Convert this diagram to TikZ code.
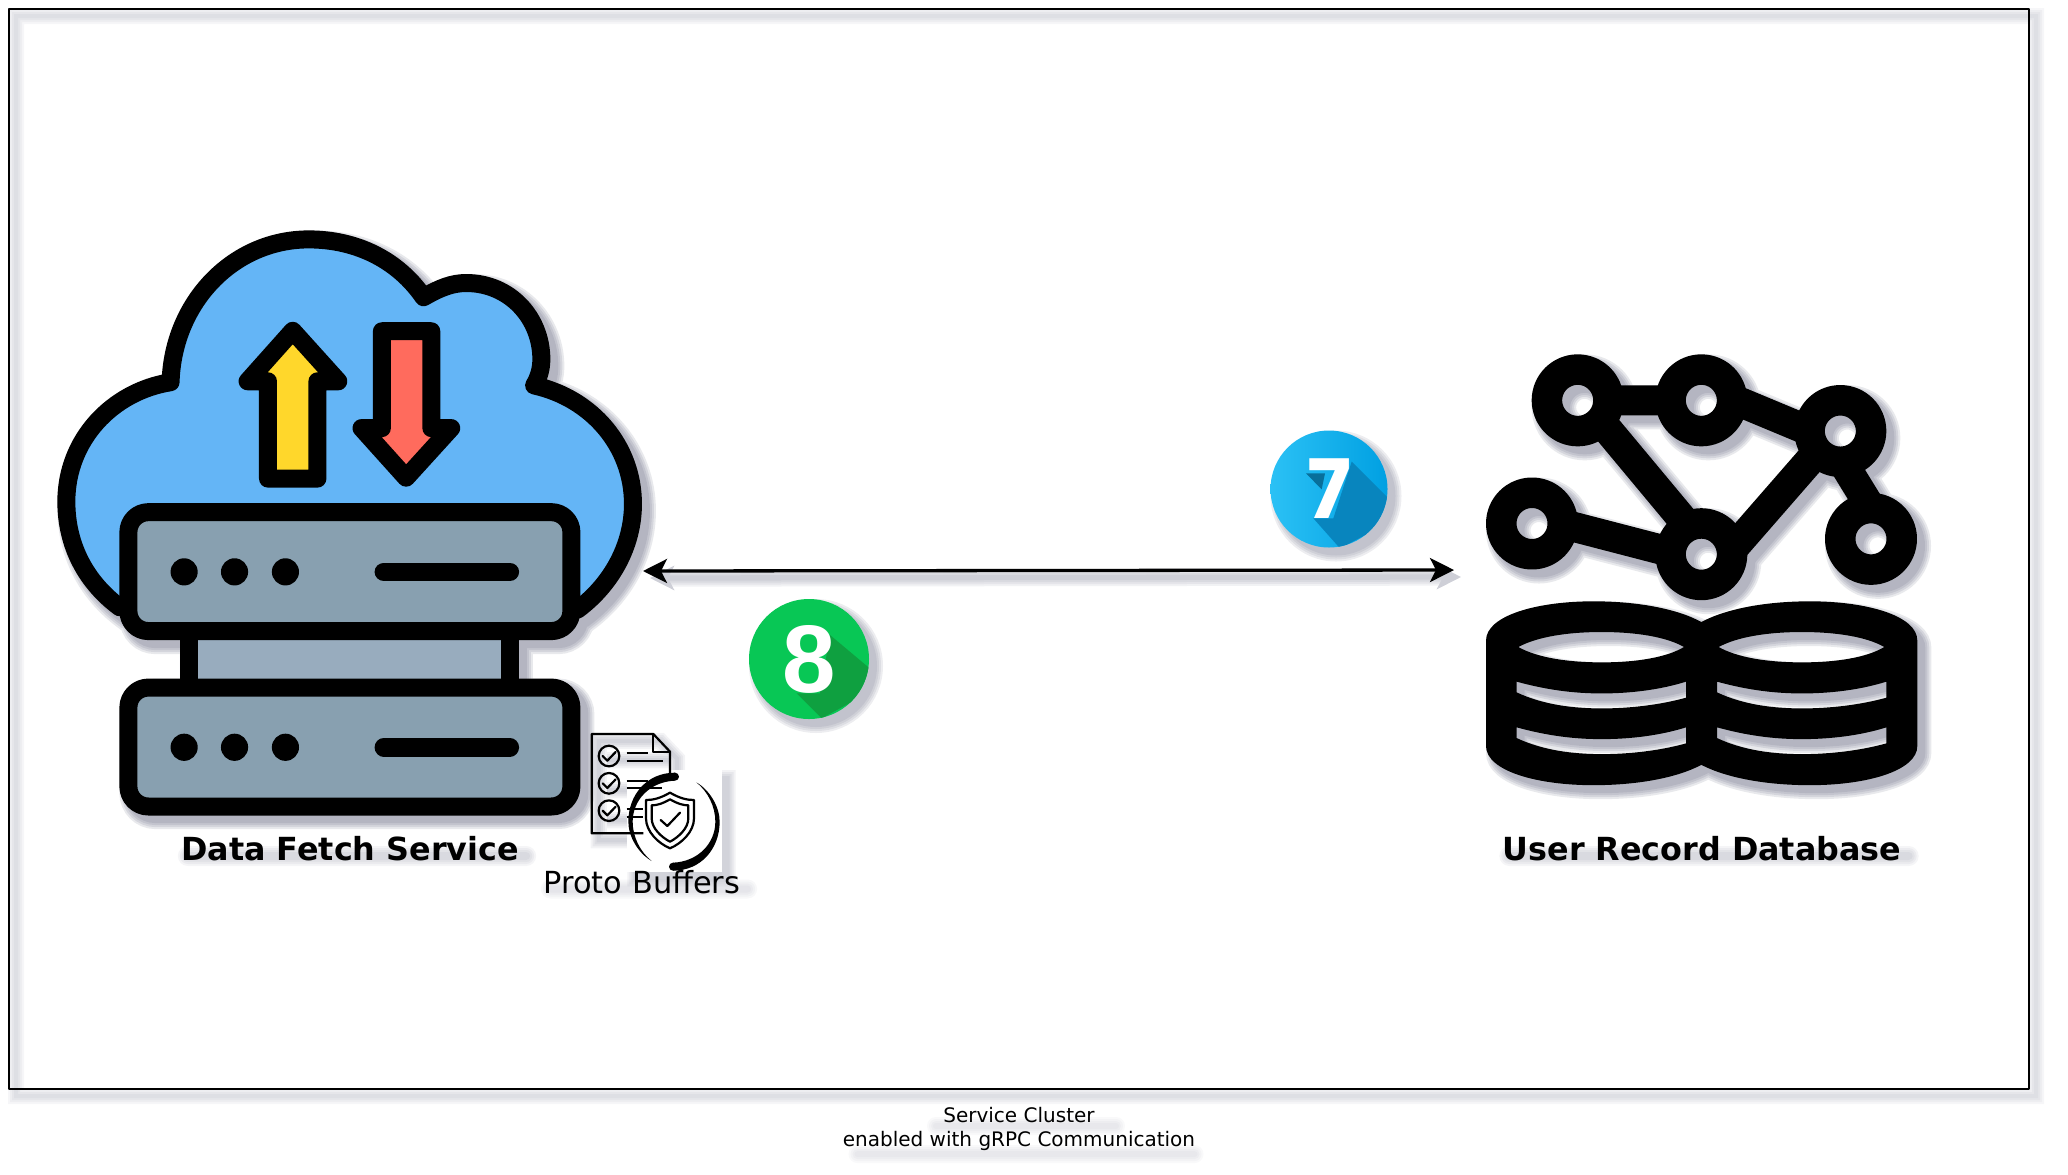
\documentclass[tikz,border=0pt]{standalone}
\usepackage{fontspec}
\setmainfont{DejaVu Sans}
\newfontfamily\badgefont{Liberation Sans}
\newfontfamily\sevenfont{Poppins}
\usetikzlibrary{arrows.meta}
\definecolor{cloudblue}{HTML}{64B5F6}
\definecolor{serverslate}{HTML}{88A0B0}
\definecolor{linkslate}{HTML}{98ACBE}
\definecolor{upyellow}{HTML}{FFD72B}
\definecolor{downred}{HTML}{FF6B5D}
\definecolor{shadowtint}{HTML}{50536F}
\definecolor{sevenleft}{HTML}{2BC1F5}
\definecolor{sevenright}{HTML}{00A0E2}
\definecolor{sevenstreak}{HTML}{0885BE}
\definecolor{sevenfold}{HTML}{086F9B}
\definecolor{eightgreen}{HTML}{08C755}
\definecolor{eightstreak}{HTML}{0FA040}
\pgfdeclarelayer{shadowlayer}
\pgfsetlayers{shadowlayer,main}
\newcommand{\softshadow}[2]{%
  \begin{pgfonlayer}{shadowlayer}
  \begin{scope}[transform canvas={shift={(3.5pt,-3.5pt)}}]
  \foreach \spread in {14,10,6,2}{
    \begin{scope}[transparency group,opacity=#1]
    #2
    \end{scope}
  }
  \end{scope}
  \end{pgfonlayer}}
\newcommand{\cloudoutline}{(185,865) .. controls (115,810) and (75,730) .. (75,635) .. controls (75,500) and (170,395) .. (290,375) .. controls (295,200) and (420,64) .. (575,64) .. controls (675,64) and (760,110) .. (812,190) .. controls (845,170) and (870,159) .. (900,159) .. controls (990,159) and (1055,235) .. (1055,325) .. controls (1055,345) and (1050,365) .. (1040,382) .. controls (1160,410) and (1244,515) .. (1244,640) .. controls (1244,730) and (1200,815) .. (1130,870) -- cycle}
\newcommand{\dbcutouts}[1]{(175+#1,888) .. controls (230+#1,860) and (320+#1,846) .. (425+#1,846) .. controls (530+#1,846) and (620+#1,860) .. (672+#1,888) .. controls (620+#1,917) and (530+#1,931) .. (425+#1,931) .. controls (320+#1,931) and (230+#1,917) .. (175+#1,888) -- cycle
 (170+#1,985) .. controls (260+#1,1008) and (340+#1,1018) .. (425+#1,1018) .. controls (510+#1,1018) and (600+#1,1008) .. (678+#1,985) -- (678+#1,1030) .. controls (600+#1,1050) and (510+#1,1060) .. (425+#1,1060) .. controls (340+#1,1060) and (250+#1,1050) .. (170+#1,1015) -- cycle
 (170+#1,1113) .. controls (260+#1,1136) and (340+#1,1146) .. (425+#1,1146) .. controls (510+#1,1146) and (600+#1,1136) .. (678+#1,1113) -- (678+#1,1158) .. controls (600+#1,1178) and (510+#1,1188) .. (425+#1,1188) .. controls (340+#1,1188) and (250+#1,1178) .. (170+#1,1143) -- cycle}
\newcommand{\dbbody}{(78,870) .. controls (78,800) and (230,760) .. (400,760) .. controls (530,760) and (650,780) .. (724,818) .. controls (800,780) and (920,760) .. (1050,760) .. controls (1220,760) and (1372,800) .. (1372,870) -- (1372,1165) .. controls (1372,1235) and (1220,1275) .. (1050,1275) .. controls (920,1275) and (800,1255) .. (724,1218) .. controls (650,1255) and (530,1275) .. (400,1275) .. controls (230,1275) and (78,1235) .. (78,1165) -- cycle \dbcutouts{0} \dbcutouts{601}}
\newcommand{\docoutline}{(250,340) -- (95,340) -- (95,42) -- (280,42) -- (330,95) -- (330,180)}
\newcommand{\netlinks}{(neta) -- (netb) (netb.3) -- (netc.180) (neta.-42) -- (nete.115) (netd.-1) -- (nete.176) (nete.8) -- (netc.222) (netc.-86) -- (netf.90)}
\begin{document}
\begin{tikzpicture}[
x=.5pt,y=-.5pt,
font=\fontsize{15.9}{18}\selectfont,
line join=round,
clusterframe/.style={rectangle,draw=black,line width=1pt,outer sep=0,inner sep=0,minimum width=1010pt,minimum height=540pt},
iconstroke/.style={draw=black,line width=9pt},
serverbox/.style={iconstroke,fill=serverslate,rounded corners=10pt},
silhouette/.style={draw=shadowtint,fill=shadowtint,line width=#1*.5pt+\spread*.5pt},
textsmudge/.style={draw=shadowtint,line cap=round,line width=#1*.5pt+\spread*.5pt},
ringnode/.style={circle,draw=black,line width=15.25pt,minimum size=30.75pt,inner sep=0,outer sep=0},
netlink/.style={draw=black,line width=15pt},
badge/.style={circle,minimum size=#1,inner sep=0,outer sep=0},
badgedigit/.style={text=white,inner sep=0,font=\bfseries\fontsize{#1}{#1}\selectfont},
biarrow/.style={{Stealth[length=12pt,width=12pt,inset=3pt]}-{Stealth[length=12pt,width=12pt,inset=3pt]},line width=1.65pt},
iconlabel/.style={font=\bfseries\fontsize{15.9}{18}\selectfont,inner sep=0},
thinstroke/.style={draw=black,line width=1.1pt}
]
\useasboundingbox (0,0) rectangle (2068,1174);

\node[clusterframe] (cluster) at (1019,549) {};
\node (clusterlabel) at (1019,1129) [align=center,inner sep=0,font=\fontsize{10}{12}\selectfont] {Service Cluster\\enabled with gRPC Communication};
\softshadow{.05}{\path[silhouette=2,fill=none] (cluster.north west) rectangle (cluster.south east);}
\softshadow{.035}{\path[textsmudge=4] ([xshift=-45pt,yshift=5pt]clusterlabel.center) -- ([xshift=45pt,yshift=5pt]clusterlabel.center) ([xshift=4pt,yshift=2pt]clusterlabel.south west) -- ([xshift=-4pt,yshift=2pt]clusterlabel.south east);}

% data fetch service
\begin{scope}[shift={(30,210)},xscale=.4847,yscale=.4592]
\path[iconstroke,fill=cloudblue] \cloudoutline;
\path[iconstroke,fill=upyellow] (542,263) -- (636,373) -- (593,373) -- (593,585) -- (491,585) -- (491,373) -- (449,373) -- cycle;
\path[iconstroke,fill=downred] (726,264) -- (828,264) -- (828,475) -- (869,475) -- (776,583) -- (684,475) -- (726,475) -- cycle;
\path[iconstroke,fill=linkslate] (328,917) rectangle (990,1040);
\foreach \rowy in {658,1040}{
  \path[serverbox] (203,\rowy) rectangle (1117,\rowy+259);
  \foreach \dotx in {318,422,527}
    \fill (\dotx,\rowy+130) ellipse [x radius=28,y radius=29.6];
  \draw[line width=9.25pt,line cap=round] (730,\rowy+130) -- (990,\rowy+130);
}
\softshadow{.13}{
  \path[silhouette=18] \cloudoutline;
  \path[silhouette=18] (328,917) rectangle (990,1040);
  \path[silhouette=18,rounded corners=10pt] (203,658) rectangle (1117,917);
  \path[silhouette=18,rounded corners=10pt] (203,1040) rectangle (1117,1298);
}
\end{scope}
\node[iconlabel] (fetchlabel) at (350,849) {Data Fetch Service};
\softshadow{.06}{\path[textsmudge=6] (fetchlabel.west) -- (fetchlabel.east);}

% proto buffers
\begin{scope}[shift={(560,720)},scale=1/3]
\fill[white] (202,150) rectangle (485,457);
\draw[thinstroke] \docoutline;
\draw[thinstroke] (280,42) -- (280,95) -- (330,95);
\foreach \rowy in {108,190,272}{
  \draw[thinstroke] (147,\rowy) circle [radius=31];
  \draw[thinstroke,line cap=round] (128,\rowy) -- (142,\rowy+14) -- (167,\rowy-12);
}
\draw[thinstroke] (200,100) -- (265,100) (200,122) -- (310,122) (200,183) -- (265,183) (200,205) -- (305,205) (200,268) -- (250,268) (200,290) -- (250,290);
\fill[white] (342,305) circle [radius=92];
\foreach \turn in {0,180}{
  \begin{scope}[rotate around={\turn:(342,305)}]
  \fill (345,158) .. controls (260,158) and (205,225) .. (205,305) .. controls (205,350) and (235,400) .. (275,423) .. controls (240,395) and (218,350) .. (218,305) .. controls (218,240) and (270,185) .. (345,182) -- cycle;
  \fill (345,170) circle [radius=12];
  \end{scope}
}
\draw[thinstroke] (330,218) .. controls (300,235) and (280,240) .. (258,240) -- (258,295) .. controls (258,335) and (295,370) .. (330,385) .. controls (365,370) and (402,335) .. (402,295) -- (402,240) .. controls (380,240) and (360,235) .. (330,218) -- cycle;
\draw[thinstroke] (330,238) .. controls (305,252) and (290,256) .. (275,256) -- (275,295) .. controls (275,325) and (305,352) .. (330,365) .. controls (355,352) and (385,325) .. (385,295) -- (385,256) .. controls (370,256) and (355,252) .. (330,238) -- cycle;
\draw[thinstroke,line cap=round] (302,300) -- (322,318) -- (360,278);
\softshadow{.07}{
  \path[silhouette=2.2,fill=none] \docoutline;
  \path[silhouette=2.2,fill=none] (120,100) -- (310,100) (120,190) -- (250,190) (120,280) -- (250,280);
  \path[silhouette=0] (202,150) rectangle (485,457);
}
\end{scope}
\node (protolabel) at (642,882) [inner sep=0,font=\fontsize{15.2}{18}\selectfont] {Proto Buffers};
\softshadow{.04}{\path[textsmudge=5] (protolabel.west) -- (protolabel.east);}

% user record database
\begin{scope}[shift={(1460,330)},xscale=1/3,yscale=.357]
\node[ringnode] (neta) at (353,197) {};
\node[ringnode] (netb) at (724,197) {};
\node[ringnode] (netc) at (1141,283) {};
\node[ringnode] (netd) at (216,542) {};
\node[ringnode] (nete) at (724,628) {};
\node[ringnode] (netf) at (1233,585) {};
\path[netlink] \netlinks;
\fill[even odd rule] \dbbody;
\softshadow{.13}{
  \path[silhouette=0,even odd rule] \dbbody;
  \foreach \ringname in {neta,netb,netc,netd,nete,netf}
    \path[silhouette=30.5,fill=none] (\ringname.center) circle [x radius=92.25,y radius=86.1];
  \path[silhouette=30,fill=none] \netlinks;
}
\end{scope}
\node[iconlabel] (recordlabel) at (1702,849) {User Record Database};
\softshadow{.06}{\path[textsmudge=6] (recordlabel.west) -- (recordlabel.east);}

% connector
\coordinate (fetchport) at (643,571);
\coordinate (recordport) at (1454,570);
\draw[biarrow] (fetchport) -- (recordport);
\softshadow{.08}{\path[silhouette=3.3,fill=none,biarrow,line width=1.65pt+\spread*.5pt] (fetchport) -- (recordport);}

% step badges
\node[badge=58.5pt,left color=sevenleft,right color=sevenright] (badgeseven) at (1329,489) {};
\begin{scope}
\clip (badgeseven.center) circle [radius=58.5];
\begin{scope}[shift={(1270,420)},scale=1/3]
\fill[sevenstreak] (245,125) -- (360,240) -- (370,300) -- (210,385) -- (130,295) -- (190,295) -- cycle;
\fill[sevenfold] (108,160) -- (165,160) -- (155,208) -- cycle;
\end{scope}
\end{scope}
\node[badgedigit=41] (sevendigit) at (badgeseven.center) {\sevenfont 7};
\softshadow{.1}{\path[silhouette=0] (badgeseven.center) circle [radius=58.5];}

\node[badge=60pt,fill=eightgreen] (badgeeight) at (809,659) {};
\begin{scope}
\clip (badgeeight.center) circle [radius=60];
\begin{scope}[shift={(740,590)},scale=1/3]
\fill[eightstreak] (270,135) -- (395,240) -- (400,300) -- (245,385) -- (170,310) -- (240,310) -- cycle;
\end{scope}
\end{scope}
\node[badgedigit=48] (eightdigit) at (badgeeight.center) {\badgefont 8};
\softshadow{.1}{\path[silhouette=0] (badgeeight.center) circle [radius=60];}
\end{tikzpicture}
\end{document}
